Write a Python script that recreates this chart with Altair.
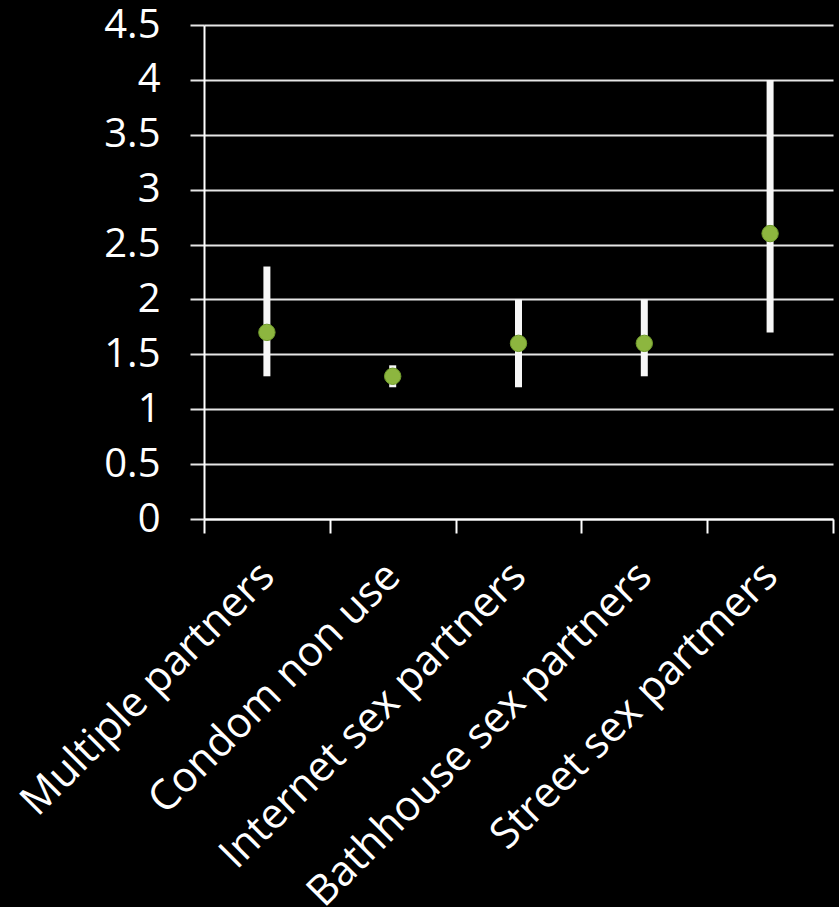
import altair as alt
import pandas as pd

# Odds ratios with 95% confidence intervals by behaviour
categories = [
    "Multiple partners",
    "Condom non use",
    "Internet sex partners",
    "Bathhouse sex partners",
    "Street sex partmers",
]
estimate = [1.7, 1.3, 1.6, 1.6, 2.6]
lower = [1.3, 1.2, 1.2, 1.3, 1.7]
upper = [2.3, 1.4, 2.0, 2.0, 4.0]

df = pd.DataFrame({"cat": categories, "est": estimate, "lo": lower, "hi": upper})

FONT = "Open Sans"
WHITE = "#FFFFFF"

x = alt.X(
    "cat:N",
    sort=categories,
    title=None,
    scale=alt.Scale(paddingInner=0, paddingOuter=0),
    axis=alt.Axis(
        labelAngle=-45,
        labelAlign="right",
        labelBaseline="middle",
        labelFont=FONT,
        labelFontSize=42,
        labelColor=WHITE,
        labelPadding=36,
        labelOverlap=False,
        labelLimit=700,
        tickBand="extent",
        tickSize=14,
        tickWidth=2,
        tickColor=WHITE,
        domainColor=WHITE,
        domainWidth=2,
        grid=False,
    ),
)

y_scale = alt.Scale(domain=[0, 4.5], nice=False)
y_axis = alt.Axis(
    values=[0, 0.5, 1, 1.5, 2, 2.5, 3, 3.5, 4, 4.5],
    labelExpr="datum.value",
    labelFont=FONT,
    labelFontSize=40,
    labelColor=WHITE,
    labelPadding=30,
    ticks=True,
    tickSize=14,
    tickWidth=2,
    tickColor="#E6E6E6",
    gridColor="#E6E6E6",
    gridWidth=2,
    domainColor=WHITE,
    domainWidth=2,
)

base = alt.Chart(df)

bars = base.mark_rule(color="#F7F7F7", strokeWidth=7).encode(
    x=x,
    y=alt.Y("lo:Q", scale=y_scale, axis=y_axis, title=None),
    y2="hi:Q",
)

points = base.mark_point(
    shape="circle", filled=True, size=270, color="#8DB63F",
    stroke="#6F9A2C", strokeWidth=1, opacity=1,
).encode(
    x=alt.X("cat:N", sort=categories),
    y=alt.Y("est:Q", scale=y_scale),
)

chart = (
    alt.layer(bars, points)
    .properties(
        width=629,
        height=494,
        background="#000000",
        padding={"left": 204, "top": 25, "right": 6, "bottom": 388},
        autosize=alt.AutoSizeParams(type="none"),
    )
    .configure_view(stroke=None)
)

chart.save("out.html", embed_options={"renderer": "svg", "actions": False})
